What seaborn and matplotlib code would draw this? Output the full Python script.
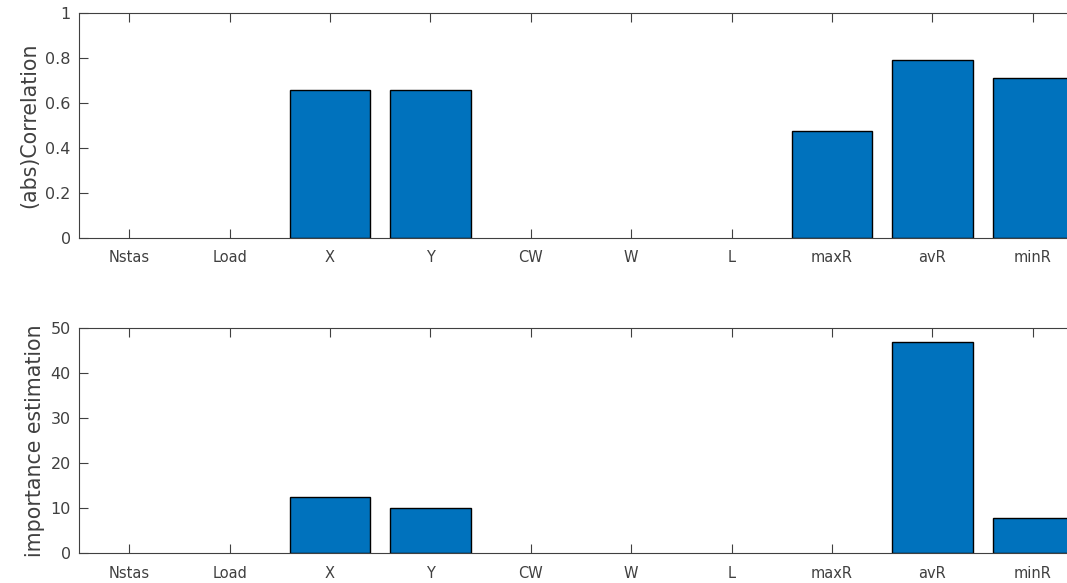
import numpy as np
import pandas as pd
import matplotlib
matplotlib.use("Agg")
import matplotlib.pyplot as plt
import seaborn as sns

features = ["Nstas", "Load", "X", "Y", "CW", "W", "L", "maxR", "avR", "minR"]
correlation = [0, 0, 0.656, 0.656, 0, 0, 0, 0.474, 0.79, 0.71]
importance = [0, 0, 12.5, 9.9, 0, 0, 0, 0, 46.9, 7.8]

sns.set_style("white")
plt.rcParams["font.family"] = ["DejaVu Sans"]
text_col = "#404040"

fig = plt.figure(figsize=(10.67, 5.83), dpi=100)
# axes run past the right edge, like the cropped original
ax1 = fig.add_axes([79 / 1067, 1 - 238 / 583, 1004 / 1067, 225 / 583])
ax2 = fig.add_axes([79 / 1067, 1 - 553 / 583, 1004 / 1067, 225 / 583])

df = pd.DataFrame({"feature": features, "corr": correlation, "imp": importance})

panels = [
    (ax1, "corr", "(abs)Correlation", (0, 1), np.arange(0, 1.01, 0.2), ["0", "0.2", "0.4", "0.6", "0.8", "1"]),
    (ax2, "imp", "importance estimation", (0, 50), np.arange(0, 51, 10), None),
]
for ax, col, lab, lim, yt, ytl in panels:
    sns.barplot(data=df, x="feature", y=col, ax=ax, color="#0072BD", saturation=1,
                width=0.8, edgecolor="black", linewidth=1.0, errorbar=None)
    # zero-height bars: no visible outline
    for p in ax.patches:
        if p.get_height() == 0:
            p.set_linewidth(0)
    ax.set_xlim(-0.5, 9.5)
    ax.set_ylim(*lim)
    ax.set_yticks(yt)
    if ytl is not None:
        ax.set_yticklabels(ytl)
    ax.set_xlabel("")
    ax.set_ylabel(lab, fontsize=14.8, color=text_col, labelpad=4)
    ax.tick_params(axis="both", direction="in", length=6.5, width=0.8, colors=text_col,
                   top=True, bottom=True, left=True, right=False)
    ax.tick_params(axis="x", labelsize=10.5, pad=9)
    ax.tick_params(axis="y", labelsize=11.5, pad=6)
    for s in ["top", "bottom", "left"]:
        ax.spines[s].set_color(text_col)
        ax.spines[s].set_linewidth(0.8)
    ax.spines["right"].set_visible(False)

fig.savefig("out.png", dpi=100)
